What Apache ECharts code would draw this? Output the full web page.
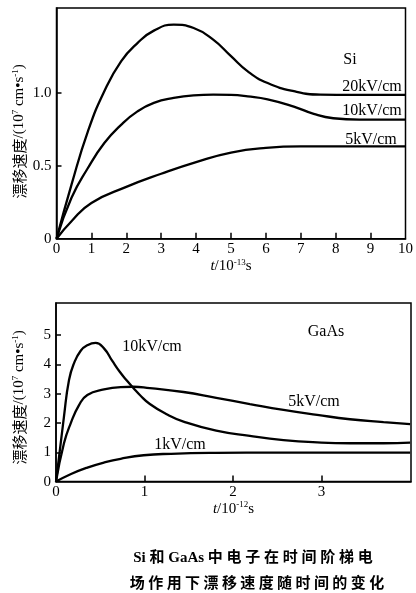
<!DOCTYPE html>
<html>
<head>
<meta charset="utf-8">
<script src="https://cdn.jsdelivr.net/npm/echarts@6/dist/echarts.min.js"></script>
<style>
html,body{margin:0;padding:0;background:#fff;}
#chart{width:416px;height:593px;}
</style>
</head>
<body>
<div id="chart"></div>
<script>
// ---- Si (t in 1e-13 s, v in 1e7 cm/s) ----
const siT20 = [0, 0.43, 0.9, 1.37, 1.85, 2.32, 2.79, 3.36, 3.93, 4.49, 5.0, 5.48, 6.05, 6.8, 7.56, 8.5, 10];
const siV20 = [0, 0.37, 0.735, 1.01, 1.215, 1.34, 1.425, 1.466, 1.443, 1.363, 1.25, 1.146, 1.066, 1.01, 0.987, 0.985, 0.985];
const siT10 = [0, 0.43, 0.9, 1.37, 1.85, 2.32, 2.79, 3.36, 3.93, 4.49, 5.0, 5.48, 6.05, 6.8, 7.37, 7.93, 8.68, 10];
const siV10 = [0, 0.28, 0.484, 0.655, 0.78, 0.872, 0.93, 0.964, 0.982, 0.987, 0.985, 0.975, 0.955, 0.905, 0.855, 0.825, 0.815, 0.815];
const siT5 = [0, 0.43, 1, 2, 3, 4, 5, 6, 7, 10];
const siV5 = [0, 0.12, 0.245, 0.355, 0.445, 0.525, 0.59, 0.622, 0.632, 0.632];

// ---- GaAs (t in 1e-12 s, v in 1e7 cm/s) ----
const gaT10 = [0, 0.09, 0.147, 0.203, 0.279, 0.354, 0.448, 0.542, 0.636, 0.72, 0.8, 0.873, 0.95, 1.06, 1.25, 1.44, 1.81, 2.19, 2.57, 2.95, 3.32, 3.7, 4.0];
const gaV10 = [0, 2.22, 3.47, 4.04, 4.47, 4.66, 4.74, 4.55, 4.12, 3.75, 3.45, 3.2, 2.95, 2.65, 2.3, 2.05, 1.74, 1.56, 1.42, 1.34, 1.31, 1.31, 1.33];
const gaT5 = [0, 0.09, 0.166, 0.26, 0.354, 0.542, 0.731, 0.873, 1.06, 1.44, 1.81, 2.19, 2.57, 2.95, 3.32, 3.7, 4.0];
const gaV5 = [0, 1.31, 1.99, 2.61, 2.96, 3.15, 3.23, 3.24, 3.19, 3.06, 2.86, 2.65, 2.45, 2.28, 2.13, 2.03, 1.96];
const gaT1 = [0, 0.17, 0.354, 0.54, 0.73, 0.99, 1.3, 1.8, 2.5, 4.0];
const gaV1 = [0, 0.26, 0.48, 0.65, 0.78, 0.9, 0.95, 0.98, 0.99, 0.99];

// ---- tick values ----
const siXTicks = [0, 1, 2, 3, 4, 5, 6, 7, 8, 9, 10];
const siYTicks = [0, 0.5, 1.0];
const gaXTicks = [0, 1, 2, 3];
const gaYTicks = [0, 1, 2, 3, 4, 5];

const siLabels = ['Si', '20kV/cm', '10kV/cm', '5kV/cm'];
const gaLabels = ['GaAs', '10kV/cm', '5kV/cm', '1kV/cm'];
const captionLines = ['Si 和 GaAs 中 电 子 在 时 间 阶 梯 电', '场 作 用 下 漂 移 速 度 随 时 间 的 变 化'];

const zip = (t, v) => t.map((x, i) => [x, v[i]]);
const SERIF = '"Liberation Serif","Noto Sans CJK SC",serif';

const richName = {
  n: {fontFamily: SERIF, fontSize: 15, color: '#000'},
  i: {fontFamily: SERIF, fontSize: 15, fontStyle: 'italic', color: '#000'},
  c: {fontFamily: '"Noto Sans CJK SC",sans-serif', fontSize: 15, color: '#000'},
  sup: {fontFamily: SERIF, fontSize: 9, verticalAlign: 'top', color: '#000', padding: [0, 0, 7, 0]}
};
const yName = '{c|漂移速度}{n|/(10}{sup|7}{n| cm•s}{sup|-1}{n|)}';

function xAxisCfg(grid, max, exp, ticks) {
  return {
    gridIndex: grid, type: 'value', min: 0, max: max, interval: 1,
    name: '{i|t}{n|/10}{sup|' + exp + '}{n|s}', nameLocation: 'middle', nameGap: 19,
    nameMoveOverlap: false,
    nameTextStyle: {rich: richName},
    axisLine: {show: true, lineStyle: {color: '#000', width: 1.5}},
    axisTick: {show: true, inside: true, length: 6, customValues: ticks.filter(v => v > 0 && v < max),
      lineStyle: {color: '#000', width: 1.5}},
    axisLabel: {color: '#000', fontFamily: SERIF, fontSize: 15, margin: 3, customValues: ticks,
      formatter: v => String(v)},
    splitLine: {show: false}
  };
}
function yAxisCfg(grid, max, interval, ticks, fmt, shift) {
  return {
    gridIndex: grid, type: 'value', min: 0, max: max, interval: interval,
    name: yName, nameLocation: 'middle', nameRotate: 90, nameGap: 29,
    nameMoveOverlap: false,
    nameTextStyle: {rich: richName, padding: [0, shift, 0, 0]},
    axisLine: {show: true, lineStyle: {color: '#000', width: 1.5}},
    axisTick: {show: true, inside: true, length: 5, customValues: ticks.filter(v => v > 0),
      lineStyle: {color: '#000', width: 1.5}},
    axisLabel: {color: '#000', fontFamily: SERIF, fontSize: 15, margin: 5, customValues: ticks,
      formatter: fmt},
    splitLine: {show: false}
  };
}
function lineSeries(xi, data) {
  return {
    type: 'line', xAxisIndex: xi, yAxisIndex: xi, data: data, smooth: 0.5,
    showSymbol: false, symbol: 'none', silent: true,
    lineStyle: {color: '#000', width: 2.3}
  };
}
function txt(x, y, s, size) {
  return {type: 'text', x: x, y: y, silent: true,
    style: {text: s, fill: '#000', font: (size || 16) + 'px ' + SERIF, align: 'center', verticalAlign: 'middle'}};
}

const chart = echarts.init(document.getElementById('chart'), null, {renderer: 'canvas'});
chart.setOption({
  animation: false,
  backgroundColor: '#fff',
  grid: [
    {left: 56.5, right: 6.5, top: 8, bottom: 354.3, show: true, borderColor: '#000', borderWidth: 1.5},
    {left: 56, right: 5, top: 303, bottom: 111.4, show: true, borderColor: '#000', borderWidth: 1.5}
  ],
  xAxis: [xAxisCfg(0, 10, '-13', siXTicks), xAxisCfg(1, 4.01, '-12', gaXTicks)],
  yAxis: [
    yAxisCfg(0, 1.58, 0.5, siYTicks, v => (v === 0 ? '0' : v.toFixed(1)), 16),
    yAxisCfg(1, 6.1, 1, gaYTicks, v => String(v), 10)
  ],
  series: [
    lineSeries(0, zip(siT20, siV20)),
    lineSeries(0, zip(siT10, siV10)),
    lineSeries(0, zip(siT5, siV5)),
    lineSeries(1, zip(gaT10, gaV10)),
    lineSeries(1, zip(gaT5, gaV5)),
    lineSeries(1, zip(gaT1, gaV1))
  ],
  graphic: [
    txt(350, 60, siLabels[0]),
    txt(372, 87, siLabels[1]),
    txt(372, 111, siLabels[2]),
    txt(371, 140, siLabels[3]),
    txt(326, 332, gaLabels[0]),
    txt(152, 347, gaLabels[1]),
    txt(314, 402, gaLabels[2]),
    txt(180, 445, gaLabels[3]),
    {type: 'text', x: 253, y: 558, silent: true,
      style: {text: captionLines[0], fill: '#000', font: 'bold 15px "Liberation Serif","Noto Sans CJK SC",sans-serif', align: 'center', verticalAlign: 'middle'}},
    {type: 'text', x: 257, y: 582, silent: true,
      style: {text: captionLines[1], fill: '#000', font: 'bold 15px "Noto Sans CJK SC",sans-serif', align: 'center', verticalAlign: 'middle'}}
  ]
});
</script>
</body>
</html>
